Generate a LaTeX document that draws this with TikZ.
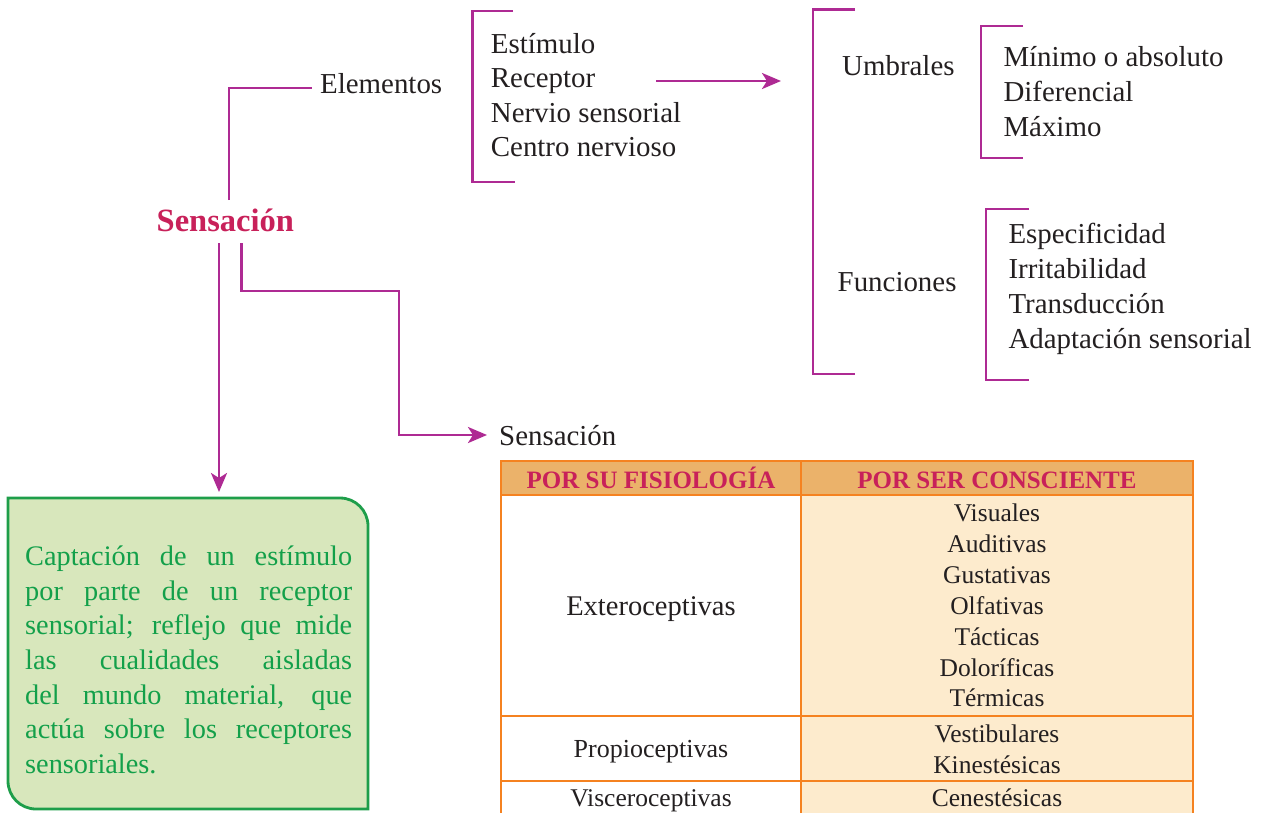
\documentclass[tikz,border=0pt]{standalone}
\usepackage{fontspec}
\setmainfont{Liberation Serif}
\usetikzlibrary{arrows.meta}
\definecolor{mag}{HTML}{AE2A93}
\definecolor{crim}{HTML}{C8215A}
\definecolor{txt}{HTML}{231F20}
\definecolor{hdr}{HTML}{EBB26A}
\definecolor{orn}{HTML}{F58220}
\definecolor{crm}{HTML}{FDEBCD}
\definecolor{gline}{HTML}{1E9E4A}
\definecolor{gfill}{HTML}{D8E7BC}
\definecolor{gtxt}{HTML}{13A04A}
\newcommand{\fsz}[1]{\fontsize{#1}{#1}\selectfont}
\begin{document}
\begin{tikzpicture}[x=1pt,y=-1pt,
  lbl/.style={anchor=base west, inner sep=0pt, text=txt, font=\fsz{28.9}},
  ctr/.style={anchor=base, inner sep=0pt, text=txt, font=\fsz{25.5}},
  hd/.style={anchor=base, inner sep=0pt, text=crim, font=\bfseries\fsz{25}},
  gl/.style={anchor=base west, inner sep=0pt, text=gtxt, font=\fsz{28.3}},
  conn/.style={draw=mag, line width=2.9pt},
  arr/.style={conn, -{Stealth[length=19pt,width=16pt,inset=5pt]}},
  brk/.style={draw=mag, line width=2.9pt},
  tline/.style={draw=orn, line width=2.8pt}]
\useasboundingbox (0,0) rectangle (1266,812);
\clip (0,0) rectangle (1266,812);

% main node
\node[anchor=base west, inner sep=0pt, text=crim, font=\bfseries\fsz{32.5}] (sens) at (156.5,231.7) {Sensación};
\node[lbl] (elem) at (320,93) {Elementos};

% list 1
\node[lbl] (l1) at (490.7,53.3) {Estímulo};
\node[lbl] (l2) at (490.7,87.7) {Receptor};
\node[lbl] (l3) at (490.7,122.3) {Nervio sensorial};
\node[lbl] (l4) at (490.7,156.9) {Centro nervioso};

% umbrales / funciones
\node[lbl] (umb) at (842,75) {Umbrales};
\node[lbl] (fun) at (837.5,291.7) {Funciones};
\node[lbl] (u1) at (1003.3,66.7) {Mínimo o absoluto};
\node[lbl] (u2) at (1003.3,101.7) {Diferencial};
\node[lbl] (u3) at (1003.3,136.7) {Máximo};
\node[lbl] (f1) at (1008.3,243.3) {Especificidad};
\node[lbl] (f2) at (1008.3,278.3) {Irritabilidad};
\node[lbl] (f3) at (1008.3,313.3) {Transducción};
\node[lbl] (f4) at (1008.3,348.3) {Adaptación sensorial};

\node[lbl] (sens2) at (499,445.5) {Sensación};

% brackets
\draw[brk] (513,11) -- (472.7,11) -- (472.7,182) -- (515,182);
\draw[brk] (855,9.5) -- (813,9.5) -- (813,374) -- (855,374);
\draw[brk] (1023,26) -- (981,26) -- (981,158) -- (1023,158);
\draw[brk] (1029,209) -- (986,209) -- (986,380) -- (1029,380);

% connectors
\coordinate (a0) at (229,200);
\coordinate (a1) at (229,88);
\coordinate (a2) at (312,88);
\draw[conn] (a0) -- (a1) -- (a2);

\coordinate (b0) at (241.7,243);
\coordinate (b1) at (241.7,291);
\coordinate (b2) at (399,291);
\coordinate (b3) at (399,435);
\coordinate (b4) at (487,435);
\draw[arr] (b0) -- (b1) -- (b2) -- (b3) -- (b4);

\coordinate (c0) at (219,243);
\coordinate (c1) at (219,492);
\draw[arr] (c0) -- (c1);

\coordinate (d0) at (656,81);
\coordinate (d1) at (781,81);
\draw[arr] (d0) -- (d1);

% green box
\path[draw=gline, fill=gfill, line width=2.8pt]
  (8,498) -- (340,498) .. controls (355.5,498) and (368,510.5) .. (368,526)
  -- (368,809) -- (36,809) .. controls (20.5,809) and (8,796.5) .. (8,781) -- cycle;
\node[gl] (g1) at (25,565.7) {\makebox[327pt][s]{Captación de un estímulo}};
\node[gl] (g2) at (25,600.3) {\makebox[327pt][s]{por parte de un receptor}};
\node[gl] (g3) at (25,634.9) {\makebox[327pt][s]{sensorial; reflejo que mide}};
\node[gl] (g4) at (25,669.5) {\makebox[327pt][s]{las cualidades aisladas}};
\node[gl] (g5) at (25,704.1) {\makebox[327pt][s]{del mundo material, que}};
\node[gl] (g6) at (25,738.7) {\makebox[327pt][s]{actúa sobre los receptores}};
\node[gl] (g7) at (25,773.3) {sensoriales.};

% table
\fill[hdr] (501,461) rectangle (1193,495);
\fill[crm] (801,495) rectangle (1193,830);
\draw[tline] (501,461) rectangle (1193,830);
\draw[tline] (501,495) -- (1193,495);
\draw[tline] (801,461) -- (801,830);
\draw[tline] (501,716) -- (1193,716);
\draw[tline] (501,781) -- (1193,781);

\node[hd] (h1) at (651,488.3) {POR SU FISIOLOGÍA};
\node[hd] (h2) at (997,488.3) {POR SER CONSCIENTE};

\node[ctr, font=\fsz{28.5}] (r1) at (651,615.7) {Exteroceptivas};
\node[ctr, font=\fsz{26}] (r2) at (651,757.3) {Propioceptivas};
\node[ctr] (r3) at (651,806.7) {Visceroceptivas};

\node[ctr] (v1) at (997,521.7) {Visuales};
\node[ctr] (v2) at (997,552.7) {Auditivas};
\node[ctr] (v3) at (997,583.5) {Gustativas};
\node[ctr] (v4) at (997,614.3) {Olfativas};
\node[ctr] (v5) at (997,645) {Tácticas};
\node[ctr] (v6) at (997,676) {Doloríficas};
\node[ctr] (v7) at (997,706.7) {Térmicas};
\node[ctr] (v8) at (997,742.7) {Vestibulares};
\node[ctr] (v9) at (997,773.3) {Kinestésicas};
\node[ctr] (v10) at (997,806.7) {Cenestésicas};
\end{tikzpicture}
\end{document}
